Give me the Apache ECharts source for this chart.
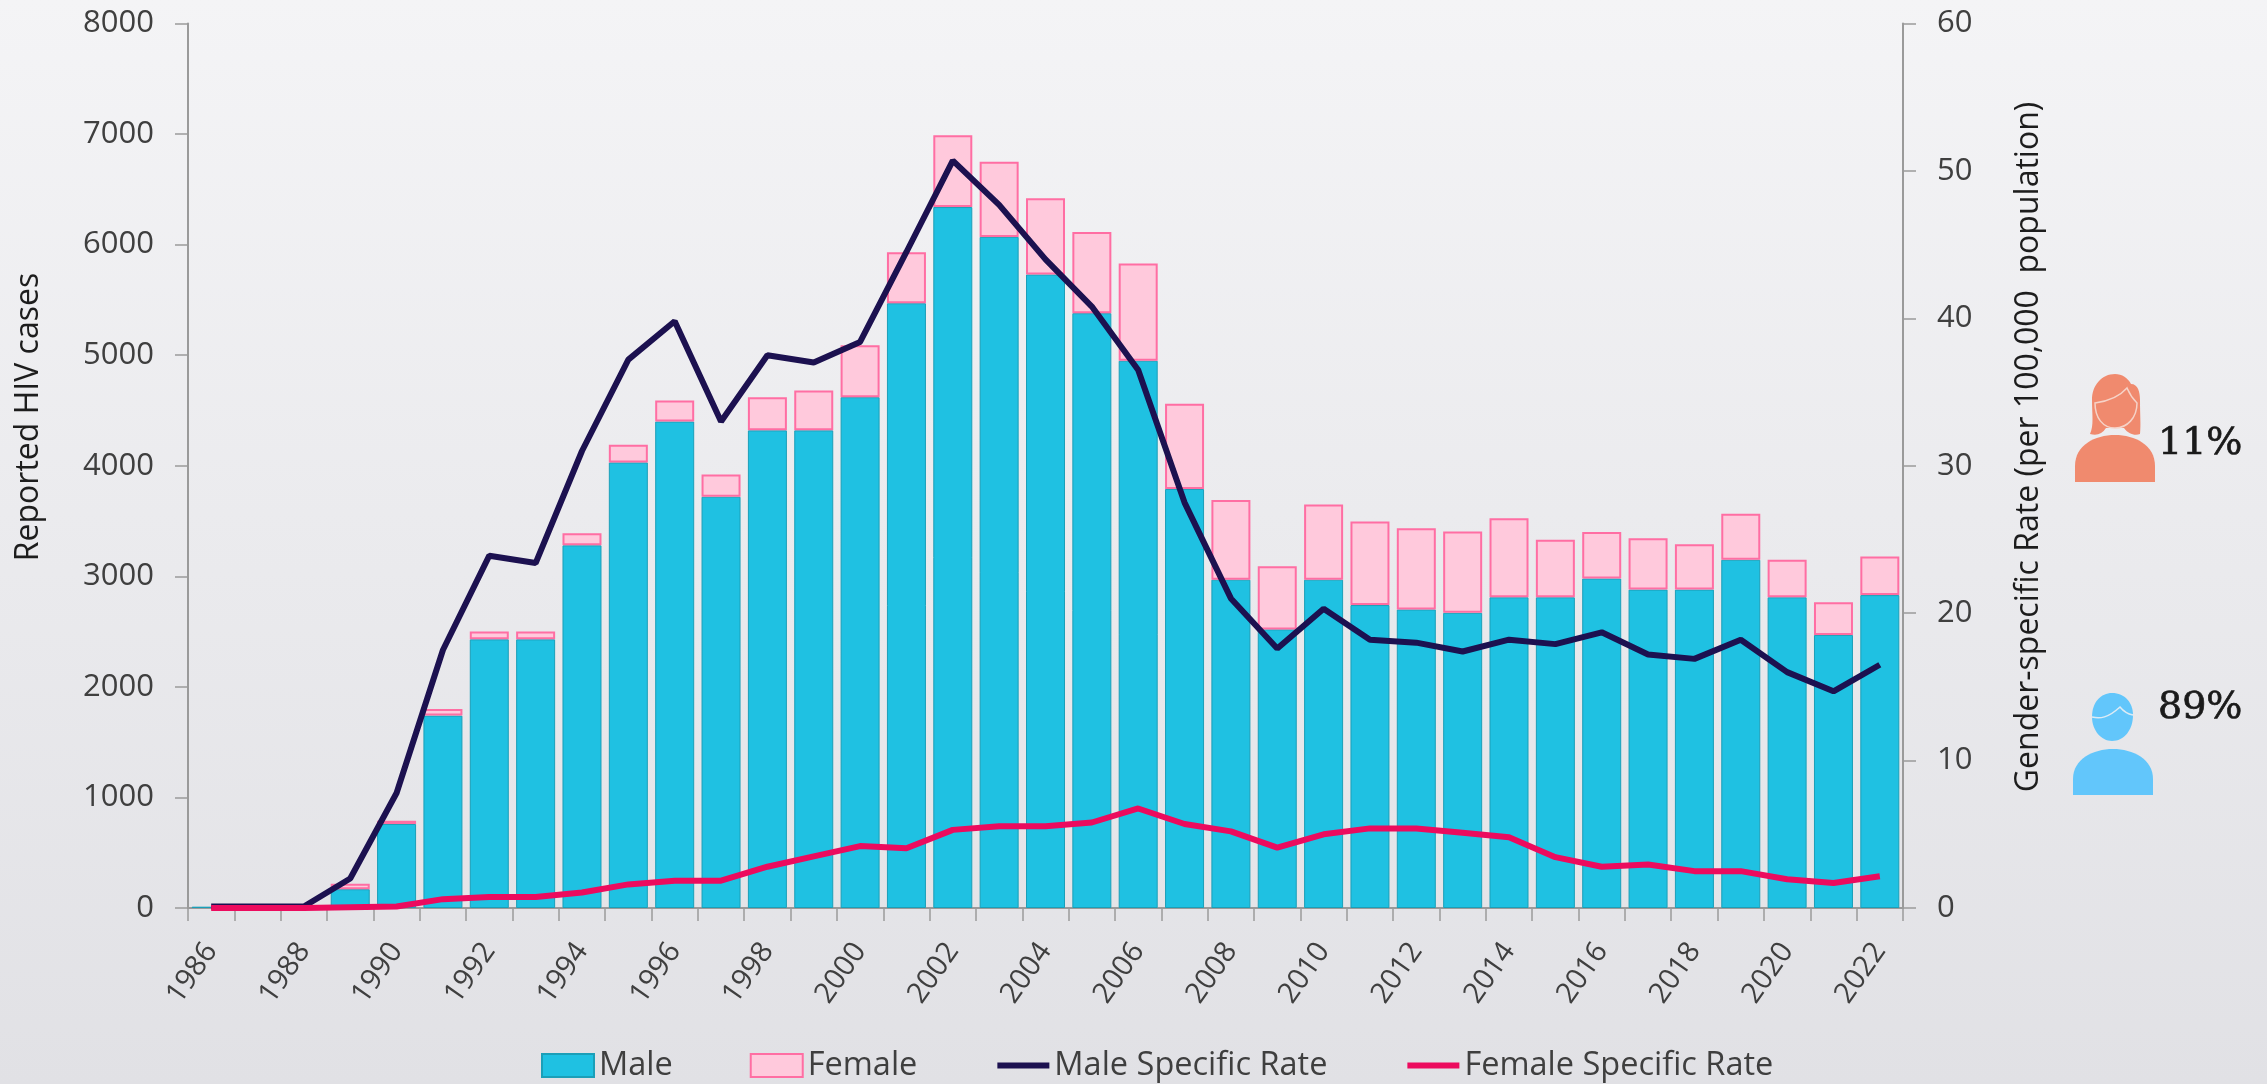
<!DOCTYPE html>
<html><head><meta charset="utf-8">
<style>html,body{margin:0;padding:0;background:#e8e8eb}#c{width:2267px;height:1084px}</style>
<script src="https://cdn.jsdelivr.net/npm/echarts@6/dist/echarts.min.js"></script>
</head><body><div id="c"></div>
<script>
const years = ['1986','1987','1988','1989','1990','1991','1992','1993','1994','1995','1996','1997','1998','1999','2000','2001','2002','2003','2004','2005','2006','2007','2008','2009','2010','2011','2012','2013','2014','2015','2016','2017','2018','2019','2020','2021','2022'];
const male = [12,null,null,170,760,1740,2430,2430,3280,4030,4400,3720,4320,4320,4620,5470,6340,6070,5730,5380,4950,3790,2970,2520,2970,2740,2700,2670,2810,2810,2980,2880,2880,3150,2810,2470,2830];
const female = [null,null,null,50,30,60,70,70,110,160,190,200,300,360,470,460,650,680,690,735,880,770,720,570,680,755,735,735,715,520,420,465,410,415,340,295,350];
const maleRate = [0.1,0.1,0.1,2,7.8,17.5,23.9,23.4,31,37.2,39.8,33,37.5,37,38.4,44.5,50.7,47.7,44,40.8,36.5,27.5,21,17.6,20.3,18.2,18,17.4,18.2,17.9,18.7,17.2,16.9,18.2,16,14.7,16.5];
const femaleRate = [0,0,0,0.05,0.1,0.6,0.75,0.75,1.05,1.6,1.85,1.85,2.8,3.5,4.2,4.05,5.3,5.55,5.55,5.8,6.75,5.7,5.2,4.1,5,5.4,5.4,5.1,4.8,3.45,2.8,2.95,2.5,2.5,1.95,1.7,2.15];
const leftTicks = {min:0,max:8000,interval:1000};
const rightTicks = {min:0,max:60,interval:10};
const FONT = '"Open Sans","Noto Sans",sans-serif';
const TXT = '#3f3f3f';
const icons = {
  wBody:'M2075 482 V466 C2075 445 2095 435 2115 435 C2135 435 2155 445 2155 466 V482 Z',
  wHair:'M2092 400 C2092 385 2102 374 2115 374 C2122 374 2128 378 2131 384 C2138 384 2140 392 2140 400 C2140 415 2141 425 2140 434 C2135 436 2128 434 2124 428 H2106 C2102 434 2097 436 2090 434 C2094 425 2092 415 2092 400 Z',
  wFace:'M2095 403 C2110 401 2120 396 2127 388 C2130 395 2134 400 2137 403 C2137 418 2127 428 2115 428 C2103 428 2095 418 2095 403 Z',
  mBody:'M2073 795 V779 C2073 759 2093 749 2113 749 C2133 749 2153 759 2153 779 V795 Z',
  mHead:'M2092 717 C2092 702 2101 693 2112 693 C2125 693 2133 703 2133 715 C2133 730 2124 741 2112 741 C2101 741 2092 730 2092 717 Z',
  mHair:'M2092 717 C2100 719 2108 718 2120 707 C2124 712 2128 714 2133 715'
};
Object.keys(icons).forEach(k=>echarts.graphic.registerShape(k,echarts.graphic.extendPath(icons[k],{})));
const chart = echarts.init(document.getElementById('c'),null,{renderer:'canvas'});
const axisLine = {show:true,lineStyle:{color:'#9a9a9a',width:2}};
const axisTick = {show:true,length:13,lineStyle:{color:'#9a9a9a',width:1.5}};
const numLabel = {fontFamily:FONT,fontSize:31,color:TXT,margin:34,formatter:v=>String(v)};
const hidden = {opacity:0};
chart.setOption({
  animation:false,
  backgroundColor:new echarts.graphic.LinearGradient(0,0,0,1,[{offset:0,color:'#f4f4f6'},{offset:1,color:'#e1e1e5'}]),
  grid:{left:188,right:364,top:23.5,bottom:176,containLabel:false},
  legend:{left:536,top:1044,itemGap:77,itemWidth:52,itemHeight:23,textStyle:{fontFamily:FONT,fontSize:32.5,color:TXT},
    data:[{name:'Male',icon:'rect'},{name:'Female',icon:'rect'},
      {name:'Male Specific Rate',itemStyle:hidden,lineStyle:{width:6,color:'#1c1150'}},
      {name:'Female Specific Rate',itemStyle:hidden,lineStyle:{width:6,color:'#ec0b5e'}}]},
  xAxis:{type:'category',data:years,axisLine,
    axisTick:{...axisTick,interval:0,alignWithLabel:false},
    axisLabel:{interval:1,rotate:55,fontFamily:FONT,fontSize:29,color:TXT,margin:38},
    splitLine:{show:false}},
  yAxis:[
    {type:'value',...leftTicks,axisLine,axisTick,axisLabel:numLabel,splitLine:{show:false}},
    {type:'value',...rightTicks,position:'right',axisLine,axisTick,axisLabel:numLabel,splitLine:{show:false}}
  ],
  series:[
    {name:'Male',type:'bar',stack:'cases',data:male,barWidth:39,itemStyle:{color:'#1fc1e2',borderColor:'#1b9fb8',borderWidth:1}},
    {name:'Female',type:'bar',stack:'cases',data:female,barWidth:39,itemStyle:{color:'#ffc9dc',borderColor:'#ff6ea3',borderWidth:2}},
    {name:'Male Specific Rate',type:'line',yAxisIndex:1,data:maleRate,symbol:'none',z:5,itemStyle:{color:'#1c1150'},lineStyle:{color:'#1c1150',width:6}},
    {name:'Female Specific Rate',type:'line',yAxisIndex:1,data:femaleRate,symbol:'none',z:6,itemStyle:{color:'#ec0b5e'},lineStyle:{color:'#ec0b5e',width:6}}
  ],
  graphic:[
    {type:'text',x:29,y:417,rotation:Math.PI/2,style:{text:'Reported HIV cases',font:'32px '+FONT,fill:'#1d1d1d',align:'center',verticalAlign:'middle'}},
    {type:'text',x:2029,y:447,rotation:Math.PI/2,style:{text:'Gender-specific Rate (per 100,000  population)',font:'32px '+FONT,fill:'#1d1d1d',align:'center',verticalAlign:'middle'}},
    {type:'wBody',silent:true,style:{fill:'#f08a6e'}},
    {type:'wHair',silent:true,style:{fill:'#f08a6e'}},
    {type:'wFace',silent:true,style:{fill:'none',stroke:'#f6d3c8',lineWidth:1.5}},
    {type:'text',x:2158,y:444,style:{text:'11%',font:'38px "DejaVu Serif",serif',fill:'#1a1a1a',stroke:'#1a1a1a',lineWidth:0.7,verticalAlign:'middle'}},
    {type:'mBody',silent:true,style:{fill:'#62c6fb'}},
    {type:'mHead',silent:true,style:{fill:'#62c6fb'}},
    {type:'mHair',silent:true,style:{fill:'none',stroke:'#dcebf5',lineWidth:1.5}},
    {type:'text',x:2158,y:708,style:{text:'89%',font:'38px "DejaVu Serif",serif',fill:'#1a1a1a',stroke:'#1a1a1a',lineWidth:0.7,verticalAlign:'middle'}}
  ]
});
</script></body></html>
